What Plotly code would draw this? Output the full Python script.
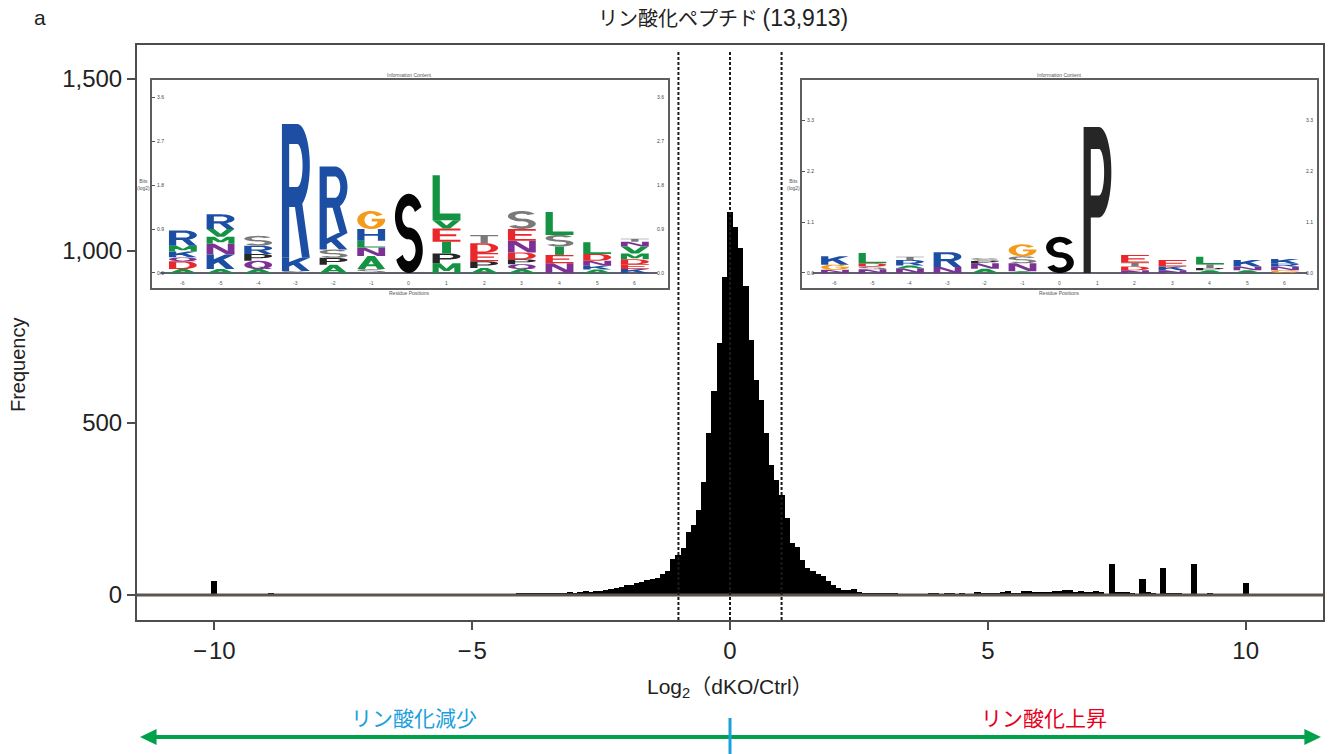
import math
import plotly.graph_objects as go

# ---------------- data ----------------
bin_centers = [-10.0, -8.9,
               -4.1, -4.0, -3.9, -3.8, -3.7, -3.6, -3.5, -3.4, -3.3, -3.2, -3.1, -3.0,
               -2.9, -2.8, -2.7, -2.6, -2.5, -2.4, -2.3, -2.2, -2.1, -2.0,
               -1.9, -1.8, -1.7, -1.6, -1.5, -1.4, -1.3, -1.2, -1.1, -1.0,
               -0.9, -0.8, -0.7, -0.6, -0.5, -0.4, -0.3, -0.2, -0.1, 0.0,
               0.1, 0.2, 0.3, 0.4, 0.5, 0.6, 0.7, 0.8, 0.9, 1.0,
               1.1, 1.2, 1.3, 1.4, 1.5, 1.6, 1.7, 1.8, 1.9, 2.0,
               2.1, 2.2, 2.3, 2.4, 2.5, 2.6, 2.7, 2.8, 2.9, 3.0,
               3.1, 3.2, 3.3,
               3.9, 4.0, 4.2, 4.3, 4.5, 4.8, 4.9, 5.0, 5.1, 5.2, 5.3, 5.4, 5.5,
               5.6, 5.7, 5.8, 5.9, 6.0, 6.1, 6.2, 6.3, 6.4, 6.5, 6.6, 6.7, 6.8,
               6.9, 7.0, 7.1, 7.2, 7.4, 7.5, 7.6, 7.7, 7.8, 8.0, 8.1, 8.2, 8.4,
               8.5, 8.6, 8.7, 9.0, 9.3, 10.0]
bin_counts = [39, 6,
              3, 6, 5, 3, 4, 3, 5, 4, 6, 5, 8, 6,
              7, 10, 8, 10, 12, 14, 16, 20, 22, 28,
              30, 36, 38, 42, 46, 50, 60, 70, 105, 115,
              137, 184, 203, 247, 329, 471, 593, 733, 925, 1114,
              1071, 1008, 898, 741, 625, 567, 471, 378, 334, 291,
              224, 150, 140, 102, 78, 70, 60, 55, 40, 29,
              20, 15, 14, 18, 8, 6, 5, 6, 4, 4,
              3, 3, 2,
              3, 5, 3, 4, 3, 8, 5, 6, 6, 5, 8, 10, 5,
              6, 10, 10, 8, 7, 8, 9, 11, 12, 15, 13, 9, 10,
              7, 9, 10, 8, 90, 8, 7, 7, 5, 46, 8, 6, 78,
              4, 6, 5, 90, 3, 34]

threshold_lines = [-1, 0, 1]

x_tickvals = [-10, -5, 0, 5, 10]
x_ticktext = ["\u2212\u200a10", "\u2212\u200a5", "0", "5", "10"]
y_tickvals = [0, 500, 1000, 1500]

# sequence-logo insets (letters bottom -> top, heights in bits)
logo_positions = [-6, -5, -4, -3, -2, -1, 0, 1, 2, 3, 4, 5, 6]
left_letters = ["ADQKMR", "AKNMVR", "AQPRS", "SKR", "APSKR", "SANLHG", "S",
                "MPIEVL", "APEDT", "AQPDNES", "NEISL", "AKNDL", "KEDMVNT"]
left_bits = [[.08, .16, .08, .12, .12, .31], [.08, .30, .22, .14, .16, .30],
             [.08, .17, .14, .17, .20], [.04, .27, 2.74], [.17, .14, .17, .34, 1.36],
             [.08, .27, .17, .14, .24, .37], [1.62],
             [.20, .20, .24, .27, .17, .92], [.10, .14, .17, .20, .17],
             [.08, .10, .10, .14, .24, .24, .37], [.20, .17, .17, .24, .47],
             [.07, .08, .10, .14, .24], [.08, .10, .10, .12, .14, .10, .06]]
right_letters = ["NGK", "NSDL", "NART", "NR", "ANPS", "ANSG", "S",
                 "P", "NDTE", "NKE", "APTL", "ANK", "GNRK"]
right_bits = [[.07, .11, .18], [.08, .06, .07, .22], [.10, .06, .12, .07],
              [.13, .32], [.09, .12, .05, .06], [.04, .17, .15, .26], [.78],
              [3.15], [.06, .08, .08, .17], [.06, .08, .14],
              [.06, .05, .08, .16], [.06, .08, .14], [.06, .08, .06, .10]]
left_bit_ticks = [0.0, 0.9, 1.8, 2.7, 3.6]
right_bit_ticks = [0.0, 1.1, 2.2, 3.3]

# ---------------- styles ----------------
LETTER_COLORS = {"R": "#1c4fa3", "K": "#1c4fa3", "H": "#1c4fa3",
                 "G": "#f59b1c", "S": "#7a7a7a", "T": "#7a7a7a",
                 "L": "#149443", "V": "#149443", "I": "#149443", "M": "#149443",
                 "A": "#149443", "F": "#149443", "Y": "#149443",
                 "D": "#e8282b", "E": "#e8282b",
                 "N": "#7b3294", "Q": "#7b3294", "P": "#262626"}
CENTER_COLOR = "#050505"
FONT = "Liberation Sans, Arial, sans-serif"
JFONT = "Noto Sans CJK JP, sans-serif"

TV, TH = 0.26, 0.15


def _rect(x0, y0, x1, y1):
    return [(x0, y0), (x1, y0), (x1, y1), (x0, y1)]


def _ring(cx, cy, rx, ry, a0, a1, n=30):
    outer, inner = [], []
    for k in range(n + 1):
        t = math.radians(a0 + (a1 - a0) * k / n)
        outer.append((cx + rx * math.cos(t), cy + ry * math.sin(t)))
        inner.append((cx + (rx - TV) * math.cos(t), cy + (ry - TH) * math.sin(t)))
    return outer + inner[::-1]


_SR = (1 + TH) / 4
GLYPHS = {
    "A": [[(0, 0), (0.27, 0), (0.63, 1), (0.37, 1)], [(1, 0), (0.73, 0), (0.37, 1), (0.63, 1)],
          _rect(0.2, 0.22, 0.8, 0.22 + TH)],
    "C": [_ring(0.5, 0.5, 0.5, 0.5, 40, 320)],
    "D": [_rect(0, 0, TV, 1), _rect(0, 0, 0.5, TH), _rect(0, 1 - TH, 0.5, 1),
          _ring(0.5, 0.5, 0.5, 0.5, -90, 90)],
    "E": [_rect(0, 0, TV, 1), _rect(0, 0, 1, TH), _rect(0, 1 - TH, 1, 1),
          _rect(0, 0.5 - TH / 2, 0.85, 0.5 + TH / 2)],
    "F": [_rect(0, 0, TV, 1), _rect(0, 1 - TH, 1, 1), _rect(0, 0.42, 0.85, 0.42 + TH)],
    "G": [_ring(0.5, 0.5, 0.5, 0.5, 35, 360), _rect(0.52, 0.42, 1, 0.42 + TH)],
    "H": [_rect(0, 0, TV, 1), _rect(1 - TV, 0, 1, 1), _rect(0, 0.5 - TH / 2, 1, 0.5 + TH / 2)],
    "I": [_rect(0.34, 0, 0.66, 1)],
    "K": [_rect(0, 0, TV, 1), [(0.2, 0.28), (1.0, 1.0), (0.66, 1.0), (0.2, 0.62)],
          [(0.38, 0.52), (0.62, 0.64), (1.0, 0.0), (0.7, 0.0)]],
    "L": [_rect(0, 0, TV, 1), _rect(0, 0, 1, TH)],
    "M": [_rect(0, 0, 0.22, 1), _rect(0.78, 0, 1, 1),
          [(0.02, 1), (0.28, 1), (0.6, 0.2), (0.4, 0.2)],
          [(0.98, 1), (0.72, 1), (0.4, 0.2), (0.6, 0.2)]],
    "N": [_rect(0, 0, 0.24, 1), _rect(0.76, 0, 1, 1), [(0, 1), (0.28, 1), (1, 0), (0.72, 0)]],
    "O": [_ring(0.5, 0.5, 0.5, 0.5, 0, 360)],
    "P": [_rect(0, 0, TV, 1), _rect(0, 1 - TH, 0.55, 1), _rect(0, 0.38, 0.55, 0.38 + TH),
          _ring(0.55, 0.69, 0.45, 0.31, -90, 90)],
    "Q": [_ring(0.5, 0.5, 0.5, 0.5, 0, 360), [(0.5, 0.28), (0.72, 0.32), (1.0, 0.0), (0.78, 0.0)]],
    "R": [_rect(0, 0, TV, 1), _rect(0, 1 - TH, 0.55, 1), _rect(0, 0.38, 0.55, 0.38 + TH),
          _ring(0.55, 0.69, 0.45, 0.31, -90, 90), [(0.42, 0.45), (0.7, 0.45), (1, 0), (0.72, 0)]],
    "S": [_ring(0.5, 1 - _SR, 0.5, _SR, 25, 270), _ring(0.5, _SR, 0.5, _SR, -155, 90)],
    "T": [_rect(0, 1 - TH, 1, 1), _rect(0.5 - TV / 2, 0, 0.5 + TV / 2, 1)],
    "V": [[(0, 1), (0.27, 1), (0.63, 0), (0.37, 0)], [(1, 1), (0.73, 1), (0.37, 0), (0.63, 0)]],
    "Y": [[(0, 1), (0.27, 1), (0.63, 0.45), (0.37, 0.45)], [(1, 1), (0.73, 1), (0.37, 0.45), (0.63, 0.45)],
          _rect(0.37, 0, 0.63, 0.5)],
}


def _ccw(poly):
    a = 0.0
    for i in range(len(poly)):
        x1, y1 = poly[i]
        x2, y2 = poly[(i + 1) % len(poly)]
        a += x1 * y2 - x2 * y1
    return poly if a >= 0 else poly[::-1]


def letter_path(ch, xc, y0, h, w=0.74):
    parts = []
    for poly in GLYPHS[ch]:
        pts = [(xc - w / 2 + u * w, y0 + v * h) for u, v in _ccw(poly)]
        parts.append("M" + " L".join(f"{x:.4f},{y:.5f}" for x, y in pts) + " Z")
    return " ".join(parts)


def logo_shapes(letters, bits, xref, yref):
    shapes = []
    for pos, chars, hs in zip(logo_positions, letters, bits):
        y0 = 0.0
        for ch, h in zip(chars, hs):
            col = CENTER_COLOR if pos == 0 else LETTER_COLORS.get(ch, "#149443")
            shapes.append(dict(type="path", xref=xref, yref=yref, path=letter_path(ch, pos, y0, h),
                               fillcolor=col, line=dict(width=0), fillrule="nonzero", layer="above"))
            y0 += h
    return shapes


# ---------------- figure ----------------
fig = go.Figure()
fig.add_trace(go.Bar(x=bin_centers, y=bin_counts, width=0.118, marker=dict(color="#000000", line=dict(width=0)),
                     showlegend=False, hoverinfo="x+y"))
for xa, ya in (("x2", "y2"), ("x3", "y3")):
    fig.add_trace(go.Scatter(x=logo_positions, y=[0] * len(logo_positions), xaxis=xa, yaxis=ya,
                             mode="markers", marker=dict(opacity=0), showlegend=False, hoverinfo="skip"))

axis_line = "#4d4d4d"
inset_common = dict(showline=True, linecolor="#5e5e5e", linewidth=2, mirror=True,
                    showgrid=False, zeroline=False, automargin=False)

fig.update_layout(
    width=1329, height=754, autosize=False,
    margin=dict(l=137, r=6, t=45, b=134, autoexpand=False),
    paper_bgcolor="white", plot_bgcolor="white",
    bargap=0, showlegend=False,
    font=dict(family=FONT, color="#222222"),
    xaxis=dict(range=[-11.5, 11.5], tickvals=x_tickvals, ticktext=x_ticktext,
               ticks="outside", ticklen=8, tickwidth=1.5, tickcolor=axis_line,
               showline=True, linecolor=axis_line, linewidth=2, mirror=True, automargin=False,
               showgrid=False, zeroline=False, tickfont=dict(size=24, family=FONT)),
    yaxis=dict(range=[-73, 1599], tickvals=y_tickvals, tickformat=",",
               ticks="outside", ticklen=8, tickwidth=1.5, tickcolor=axis_line,
               showline=True, linecolor=axis_line, linewidth=2, mirror=True, automargin=False,
               showgrid=False, zeroline=False, tickfont=dict(size=24, family=FONT)),
    xaxis2=dict(domain=[0.01265, 0.4477], anchor="y2", range=[-6.82, 6.88],
                showticklabels=False, ticks="", **inset_common),
    yaxis2=dict(domain=[0.5774, 0.9391], anchor="x2", range=[-0.307, 3.95],
                tickvals=left_bit_ticks, ticktext=[f"{v:.1f}" for v in left_bit_ticks],
                ticks="inside", ticklen=3, tickcolor="#555", ticklabelposition="inside",
                tickfont=dict(size=5, color="#444"), **inset_common),
    xaxis3=dict(domain=[0.5607, 0.9949], anchor="y3", range=[-6.88, 6.853],
                showticklabels=False, ticks="", **inset_common),
    yaxis3=dict(domain=[0.5774, 0.9391], anchor="x3", range=[-0.3235, 4.163],
                tickvals=right_bit_ticks, ticktext=[f"{v:.1f}" for v in right_bit_ticks],
                ticks="inside", ticklen=3, tickcolor="#555", ticklabelposition="inside",
                tickfont=dict(size=5, color="#444"), **inset_common),
)

shapes = []
# zero line
shapes.append(dict(type="line", xref="x domain", yref="y", x0=0, x1=1, y0=0, y1=0,
                   line=dict(color="#5b5550", width=3), layer="above"))
for xv in threshold_lines:
    shapes.append(dict(type="line", xref="x", yref="y domain", x0=xv, x1=xv, y0=0, y1=0.99,
                       line=dict(color="#1a1a1a", width=2, dash="3px,2px"), layer="above"))
# logo baselines
for xa, ya in (("x2", "y2"), ("x3", "y3")):
    shapes.append(dict(type="line", xref=xa, yref=ya, x0=-6.6, x1=6.6, y0=0, y1=0,
                       line=dict(color="#2a2a40", width=1.5), layer="above"))
shapes += logo_shapes(left_letters, left_bits, "x2", "y2")
shapes += logo_shapes(right_letters, right_bits, "x3", "y3")

# bottom direction arrow
arrow_y = -0.2035
shapes.append(dict(type="line", xref="paper", yref="paper", x0=0.012, x1=0.988, y0=arrow_y, y1=arrow_y,
                   line=dict(color="#00a14b", width=4)))
shapes.append(dict(type="path", xref="paper", yref="paper",
                   path=f"M0.0025,{arrow_y} L0.0165,{arrow_y + 0.0139} L0.0165,{arrow_y - 0.0139} Z",
                   fillcolor="#00a14b", line=dict(width=0)))
shapes.append(dict(type="path", xref="paper", yref="paper",
                   path=f"M0.9983,{arrow_y} L0.9843,{arrow_y + 0.0139} L0.9843,{arrow_y - 0.0139} Z",
                   fillcolor="#00a14b", line=dict(width=0)))
shapes.append(dict(type="line", xref="x", yref="paper", x0=0, x1=0, y0=-0.1704, y1=-0.233,
                   line=dict(color="#1ba0dd", width=3)))
fig.update_layout(shapes=shapes)

C = dict(xanchor="center", yanchor="middle", showarrow=False)
ann = []
ann.append(dict(text="リン酸化ペプチド <span style='font-family:Liberation Sans;font-size:23px'>(13,913)</span>",
                xref="paper", yref="paper", x=0.494, y=1.047,
                font=dict(family=JFONT, size=20, color="#222"), **C))
ann.append(dict(text="a", xref="paper", yref="paper", x=-0.0818, y=1.047,
                font=dict(family=FONT, size=21, color="#222"), **C))
ann.append(dict(text="Frequency", xref="paper", yref="paper", x=-0.1003, y=0.4435, textangle=-90,
                font=dict(family=FONT, size=20, color="#222"), **C))
ann.append(dict(text="Log<sub>2</sub>（dKO/Ctrl）", xref="paper", yref="paper", x=0.5, y=-0.1183,
                font=dict(family="Liberation Sans, Noto Sans CJK JP", size=21, color="#222"), **C))
ann.append(dict(text="リン酸化減少", xref="x", yref="paper", x=-6.12, y=-0.1687,
                font=dict(family=JFONT, size=21, color="#1ba0dd"), **C))
ann.append(dict(text="リン酸化上昇", xref="x", yref="paper", x=6.08, y=-0.1687,
                font=dict(family=JFONT, size=21, color="#e50020"), **C))

# tiny inset texts
for xa, ya, ticks, ylab_off in (("x2", "y2", left_bit_ticks, -0.2), ("x3", "y3", right_bit_ticks, -0.22)):
    ann.append(dict(text="Information Content", xref=f"{xa} domain", yref=f"{ya} domain", x=0.5, y=1,
                    xanchor="center", yanchor="bottom", showarrow=False, font=dict(size=5, color="#555")))
    ann.append(dict(text="Residue Positions", xref=f"{xa} domain", yref=f"{ya} domain", x=0.5, y=0,
                    xanchor="center", yanchor="top", showarrow=False, font=dict(size=5, color="#555")))
    ann.append(dict(text="Bits<br>(log2)", xref=f"{xa} domain", yref=f"{ya} domain", x=0, y=0.5,
                    xanchor="right", yanchor="middle", showarrow=False, font=dict(size=5, color="#555")))
    for v in ticks:
        ann.append(dict(text=f"{v:.1f}", xref=f"{xa} domain", yref=ya, x=1, y=v, xanchor="right",
                        yanchor="middle", xshift=-2, showarrow=False, font=dict(size=5, color="#444")))
    for p in logo_positions:
        ann.append(dict(text=str(p), xref=xa, yref=ya, x=p, y=ylab_off, showarrow=False,
                        xanchor="center", yanchor="middle", font=dict(size=5, color="#555")))
fig.update_layout(annotations=ann)

fig.write_html("out.html", config={"displayModeBar": False},
               post_script="document.body.style.margin='0px';")
